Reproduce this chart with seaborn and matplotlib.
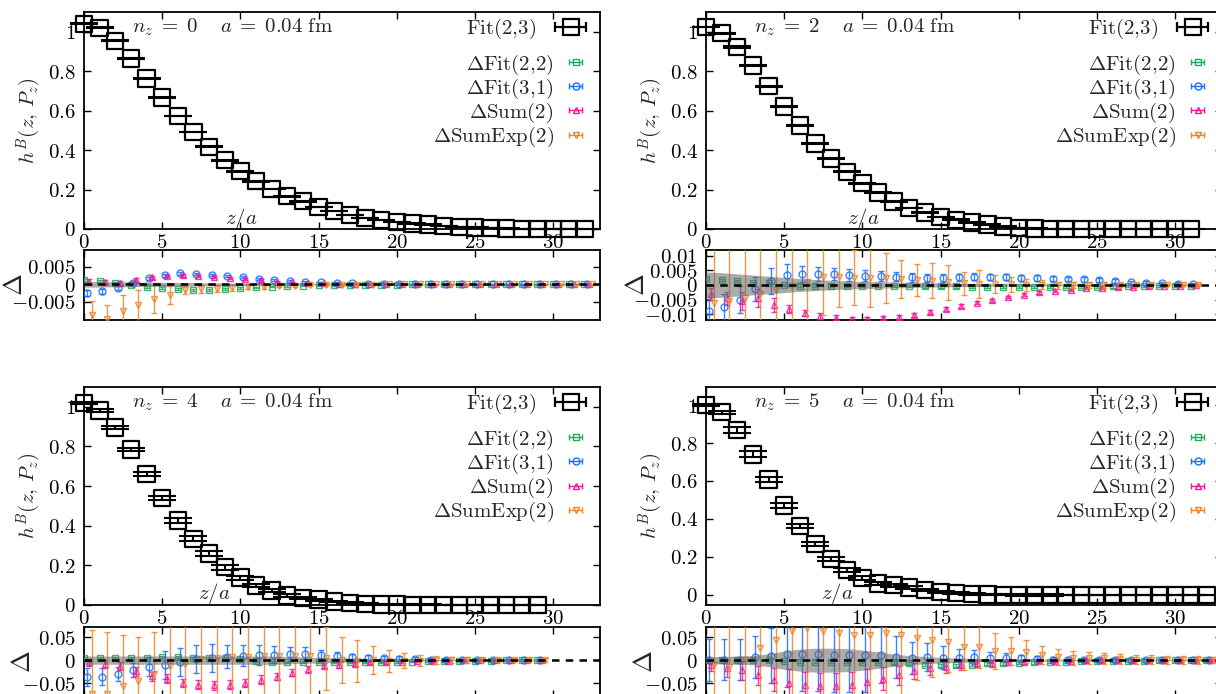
import matplotlib
matplotlib.use("Agg")
import numpy as np
import matplotlib.pyplot as plt
import seaborn as sns
from matplotlib.container import ErrorbarContainer
from matplotlib.legend_handler import HandlerErrorbar
from matplotlib.lines import Line2D
from matplotlib.collections import LineCollection
from matplotlib.ticker import FixedLocator, FuncFormatter

# ---------------------------------------------------------------- data
# n_z = 0
h_nz0 = [1.040, 1.020, 0.954, 0.864, 0.763, 0.666, 0.573, 0.492, 0.417, 0.349,
         0.293, 0.242, 0.203, 0.166, 0.141, 0.112, 0.090, 0.070, 0.057, 0.045,
         0.036, 0.028, 0.022, 0.016, 0.011, 0.007, 0.004, 0.002, 0.001, 0.000,
         0.000, 0.000, 0.000]
herr_nz0 = [0.002, 0.002, 0.002, 0.002, 0.002, 0.002, 0.002, 0.002, 0.002, 0.002,
            0.002, 0.002, 0.002, 0.002, 0.002, 0.002, 0.001, 0.001, 0.001, 0.001,
            0.001, 0.001, 0.001, 0.001, 0.001, 0.001, 0.001, 0.001, 0.001, 0.001,
            0.001, 0.001, 0.001]
d22_nz0 = [0.0012, 0.0010, 0.0005, -0.0002, -0.0007, -0.0011, -0.0014, -0.0017, -0.0016, -0.0014,
           -0.0011, -0.0009, -0.0007, -0.0005, -0.0004, -0.0003, -0.0002, -0.0002, -0.0001, -0.0001,
           -0.0001, 0.0, 0.0, 0.0, 0.0, 0.0, 0.0, 0.0, 0.0, 0.0,
           0.0, 0.0, 0.0]
d22err_nz0 = [0.0003, 0.0003, 0.0003, 0.0003, 0.0003, 0.0003, 0.0003, 0.0003, 0.0003, 0.0003,
              0.0003, 0.0002, 0.0002, 0.0002, 0.0002, 0.0002, 0.0002, 0.0002, 0.0002, 0.0002,
              0.0002, 0.0002, 0.0002, 0.0002, 0.0002, 0.0002, 0.0002, 0.0002, 0.0002, 0.0002,
              0.0002, 0.0002, 0.0002]
d31_nz0 = [-0.0025, -0.0020, -0.0011, 0.0005, 0.0017, 0.0026, 0.0031, 0.0029, 0.0027, 0.0024,
           0.0020, 0.0016, 0.0013, 0.0009, 0.0007, 0.0006, 0.0004, 0.0003, 0.0002, 0.0002,
           0.0001, 0.0001, 0.0001, 0.0, 0.0, 0.0, 0.0, 0.0, 0.0, 0.0,
           0.0, 0.0, 0.0]
d31err_nz0 = [0.0009, 0.0007, 0.0006, 0.0005, 0.0004, 0.0004, 0.0004, 0.0003, 0.0003, 0.0003,
              0.0003, 0.0003, 0.0003, 0.0002, 0.0002, 0.0002, 0.0002, 0.0002, 0.0002, 0.0002,
              0.0002, 0.0002, 0.0002, 0.0002, 0.0002, 0.0002, 0.0002, 0.0002, 0.0002, 0.0002,
              0.0002, 0.0002, 0.0002]
dsum_nz0 = [0.0007, 0.0007, 0.0004, 0.0012, 0.0020, 0.0024, 0.0026, 0.0025, 0.0022, 0.0018,
            0.0014, 0.0011, 0.0008, 0.0006, 0.0004, 0.0003, 0.0002, 0.0002, 0.0001, 0.0001,
            0.0, 0.0, 0.0, 0.0, 0.0, 0.0, 0.0, 0.0, 0.0, 0.0,
            0.0, 0.0, 0.0]
dsumerr_nz0 = [0.0007, 0.0006, 0.0006, 0.0006, 0.0005, 0.0004, 0.0004, 0.0003, 0.0003, 0.0003,
               0.0003, 0.0003, 0.0002, 0.0002, 0.0002, 0.0002, 0.0002, 0.0002, 0.0002, 0.0002,
               0.0002, 0.0002, 0.0002, 0.0002, 0.0002, 0.0002, 0.0002, 0.0002, 0.0002, 0.0002,
               0.0002, 0.0002, 0.0002]
dexp_nz0 = [-0.0087, -0.0098, -0.0076, -0.0060, -0.0042, -0.0030, -0.0016, -0.0014, -0.0012, -0.0010,
            -0.0008, -0.0007, -0.0005, -0.0004, -0.0003, -0.0002, -0.0002, -0.0001, -0.0001, 0.0,
            0.0, 0.0, 0.0, 0.0, 0.0, 0.0, 0.0, 0.0, 0.0, 0.0,
            0.0, 0.0, 0.0]
dexperr_nz0 = [0.0040, 0.0040, 0.0045, 0.0045, 0.0040, 0.0025, 0.0012, 0.0011, 0.0009, 0.0008,
               0.0006, 0.0005, 0.0004, 0.0003, 0.0003, 0.0002, 0.0002, 0.0002, 0.0002, 0.0002,
               0.0002, 0.0002, 0.0002, 0.0002, 0.0002, 0.0002, 0.0002, 0.0002, 0.0002, 0.0002,
               0.0002, 0.0002, 0.0002]
band_nz0 = [0.0008, 0.0008, 0.0007, 0.0007, 0.0006, 0.0006, 0.0005, 0.0005, 0.0004, 0.0004,
            0.0003, 0.0003, 0.0002, 0.0002, 0.0002, 0.0002, 0.0001, 0.0001, 0.0001, 0.0001,
            0.0001, 0.0001, 0.0001, 0.0001, 0.0001, 0.0001, 0.0001, 0.0001, 0.0001, 0.0001,
            0.0001, 0.0001, 0.0001]

# n_z = 2
h_nz2 = [1.024, 0.993, 0.923, 0.828, 0.724, 0.620, 0.524, 0.434, 0.357, 0.290,
         0.232, 0.185, 0.140, 0.106, 0.084, 0.061, 0.047, 0.034, 0.022, 0.013,
         0.006, 0.002, 0.000, 0.000, 0.000, 0.000, 0.000, 0.000, 0.000, 0.000,
         0.000, 0.000]
herr_nz2 = [0.002, 0.003, 0.003, 0.003, 0.003, 0.003, 0.003, 0.003, 0.003, 0.003,
            0.003, 0.003, 0.003, 0.002, 0.002, 0.002, 0.002, 0.002, 0.002, 0.002,
            0.001, 0.001, 0.001, 0.001, 0.001, 0.001, 0.001, 0.001, 0.001, 0.001,
            0.001, 0.001]
d22_nz2 = [0.0020, 0.0017, 0.0013, 0.0008, 0.0006, 0.0001, -0.0002, -0.0002, -0.0002, -0.0002,
           -0.0002, -0.0003, -0.0003, -0.0004, -0.0005, -0.0005, -0.0005, -0.0006, -0.0006, -0.0007,
           -0.0007, -0.0007, -0.0007, -0.0007, -0.0006, -0.0006, -0.0005, -0.0004, -0.0004, -0.0003,
           -0.0002, -0.0002]
d22err_nz2 = [0.0004, 0.0004, 0.0004, 0.0004, 0.0004, 0.0004, 0.0004, 0.0004, 0.0004, 0.0004,
              0.0004, 0.0004, 0.0004, 0.0004, 0.0004, 0.0004, 0.0004, 0.0004, 0.0004, 0.0004,
              0.0004, 0.0004, 0.0004, 0.0004, 0.0004, 0.0004, 0.0004, 0.0004, 0.0004, 0.0004,
              0.0004, 0.0004]
d31_nz2 = [-0.0088, -0.0077, -0.0050, -0.0014, 0.0015, 0.0034, 0.0038, 0.0038, 0.0037, 0.0034,
           0.0032, 0.0031, 0.0029, 0.0027, 0.0024, 0.0024, 0.0026, 0.0029, 0.0027, 0.0027,
           0.0024, 0.0024, 0.0022, 0.0021, 0.0019, 0.0017, 0.0013, 0.0009, 0.0007, 0.0006,
           0.0004, 0.0002]
d31err_nz2 = [0.0040, 0.0045, 0.0045, 0.0040, 0.0045, 0.0037, 0.0026, 0.0023, 0.0021, 0.0020,
              0.0019, 0.0018, 0.0016, 0.0015, 0.0014, 0.0013, 0.0012, 0.0012, 0.0011, 0.0010,
              0.0010, 0.0009, 0.0009, 0.0008, 0.0008, 0.0007, 0.0007, 0.0006, 0.0006, 0.0005,
              0.0005, 0.0004]
dsum_nz2 = [-0.0030, -0.0045, -0.0055, -0.0045, -0.0068, -0.0082, -0.0095, -0.0105, -0.0112, -0.0116,
            -0.0117, -0.0113, -0.0110, -0.0102, -0.0092, -0.0083, -0.0072, -0.0060, -0.0052, -0.0041,
            -0.0033, -0.0025, -0.0019, -0.0016, -0.0011, -0.0010, -0.0008, -0.0006, -0.0005, -0.0003,
            -0.0002, -0.0001]
dsumerr_nz2 = [0.0020, 0.0022, 0.0030, 0.0030, 0.0025, 0.0015, 0.0011, 0.0010, 0.0009, 0.0008,
               0.0008, 0.0008, 0.0007, 0.0007, 0.0007, 0.0006, 0.0006, 0.0006, 0.0005, 0.0005,
               0.0005, 0.0005, 0.0004, 0.0004, 0.0004, 0.0004, 0.0004, 0.0004, 0.0004, 0.0004,
               0.0004, 0.0004]
dexp_nz2 = [-0.0060, -0.0055, -0.0043, -0.0030, -0.0017, -0.0003, 0.0010, 0.0026, 0.0026, 0.0025,
            0.0024, 0.0024, 0.0020, 0.0018, 0.0014, 0.0010, 0.0006, 0.0004, 0.0003, 0.0002,
            0.0001, 0.0001, 0.0, 0.0, 0.0, 0.0, 0.0, 0.0, 0.0, 0.0,
            0.0, 0.0]
dexperr_nz2 = [0.0250, 0.0250, 0.0250, 0.0250, 0.0250, 0.0250, 0.0200, 0.0130, 0.0101, 0.0095,
               0.0100, 0.0085, 0.0065, 0.0055, 0.0060, 0.0060, 0.0040, 0.0048, 0.0030, 0.0025,
               0.0020, 0.0015, 0.0012, 0.0010, 0.0010, 0.0009, 0.0008, 0.0007, 0.0006, 0.0005,
               0.0005, 0.0004]
band_nz2 = [0.0045, 0.0042, 0.0038, 0.0034, 0.0030, 0.0026, 0.0022, 0.0019, 0.0016, 0.0014,
            0.0012, 0.0011, 0.0010, 0.0009, 0.0008, 0.0007, 0.0006, 0.0005, 0.0004, 0.0004,
            0.0003, 0.0003, 0.0003, 0.0002, 0.0002, 0.0002, 0.0002, 0.0002, 0.0001, 0.0001,
            0.0001, 0.0001]

# n_z = 4
h_nz4 = [1.019, 0.982, 0.896, 0.785, 0.660, 0.540, 0.427, 0.334, 0.260, 0.191,
         0.138, 0.098, 0.073, 0.049, 0.034, 0.027, 0.017, 0.010, 0.005, 0.003,
         0.002, 0.001, 0.001, 0.000, 0.000, 0.000, 0.000, 0.000, 0.000, 0.000]
herr_nz4 = [0.004, 0.007, 0.008, 0.008, 0.009, 0.010, 0.012, 0.013, 0.013, 0.012,
            0.010, 0.009, 0.008, 0.007, 0.006, 0.005, 0.004, 0.004, 0.003, 0.003,
            0.003, 0.002, 0.002, 0.002, 0.002, 0.002, 0.002, 0.002, 0.002, 0.002]
d22_nz4 = [0.004, 0.004, 0.004, 0.005, 0.005, 0.006, 0.006, 0.004, 0.004, 0.004,
           0.002, -0.001, -0.004, -0.005, -0.005, -0.004, -0.005, -0.005, -0.005, -0.005,
           -0.004, -0.003, -0.002, -0.002, -0.001, -0.001, -0.001, 0.0, 0.0, 0.0]
d22err_nz4 = [0.002, 0.002, 0.002, 0.002, 0.002, 0.002, 0.002, 0.002, 0.002, 0.002,
              0.002, 0.002, 0.002, 0.002, 0.002, 0.002, 0.002, 0.002, 0.002, 0.002,
              0.002, 0.002, 0.002, 0.002, 0.002, 0.002, 0.002, 0.002, 0.002, 0.002]
d31_nz4 = [-0.037, -0.036, -0.030, -0.022, -0.014, -0.010, -0.004, 0.002, 0.005, 0.007,
           0.010, 0.012, 0.012, 0.014, 0.013, 0.011, 0.008, 0.006, 0.005, 0.004,
           0.003, 0.002, 0.001, 0.001, 0.0, 0.0, 0.0, 0.0, 0.0, 0.0]
d31err_nz4 = [0.020, 0.018, 0.016, 0.015, 0.020, 0.030, 0.030, 0.030, 0.030, 0.025,
              0.022, 0.022, 0.018, 0.015, 0.015, 0.012, 0.010, 0.008, 0.007, 0.006,
              0.005, 0.004, 0.004, 0.003, 0.003, 0.003, 0.002, 0.002, 0.002, 0.002]
dsum_nz4 = [-0.005, -0.008, -0.013, -0.024, -0.035, -0.040, -0.049, -0.053, -0.055, -0.053,
            -0.049, -0.042, -0.036, -0.027, -0.020, -0.012, -0.010, -0.008, -0.005, -0.004,
            -0.003, -0.002, -0.001, -0.001, 0.0, 0.0, 0.0, 0.0, 0.0, 0.0]
dsumerr_nz4 = [0.008, 0.009, 0.009, 0.010, 0.010, 0.009, 0.009, 0.009, 0.009, 0.009,
               0.009, 0.009, 0.008, 0.008, 0.007, 0.006, 0.006, 0.005, 0.004, 0.004,
               0.003, 0.003, 0.003, 0.002, 0.002, 0.002, 0.002, 0.002, 0.002, 0.002]
dexp_nz4 = [-0.074, -0.074, -0.057, -0.046, -0.031, -0.013, -0.009, 0.002, 0.004, 0.006,
            0.006, 0.009, 0.010, 0.009, 0.008, 0.004, 0.000, -0.002, 0.000, -0.002,
            -0.001, -0.001, 0.0, 0.0, 0.0, 0.0, 0.0, 0.0, 0.0, 0.0]
dexperr_nz4 = [0.139, 0.135, 0.112, 0.097, 0.092, 0.150, 0.150, 0.150, 0.150, 0.150,
               0.150, 0.150, 0.150, 0.150, 0.150, 0.068, 0.050, 0.045, 0.030, 0.024,
               0.016, 0.012, 0.009, 0.007, 0.006, 0.005, 0.005, 0.004, 0.004, 0.004]
band_nz4 = [0.009, 0.009, 0.009, 0.009, 0.009, 0.009, 0.009, 0.009, 0.009, 0.009,
            0.009, 0.009, 0.009, 0.008, 0.007, 0.006, 0.005, 0.004, 0.003, 0.003,
            0.002, 0.002, 0.002, 0.001, 0.001, 0.001, 0.001, 0.001, 0.001, 0.001]

# n_z = 5
h_nz5 = [1.000, 0.963, 0.868, 0.740, 0.609, 0.472, 0.363, 0.268, 0.189, 0.132,
         0.088, 0.061, 0.051, 0.040, 0.026, 0.016, 0.009, 0.004, 0.002, 0.001,
         0.000, 0.000, 0.000, 0.000, 0.000, 0.000, 0.000, 0.000, 0.000, 0.000,
         0.000, 0.000, 0.000]
herr_nz5 = [0.003, 0.008, 0.015, 0.016, 0.014, 0.013, 0.013, 0.012, 0.012, 0.011,
            0.010, 0.009, 0.008, 0.007, 0.006, 0.005, 0.005, 0.004, 0.004, 0.003,
            0.003, 0.003, 0.003, 0.002, 0.002, 0.002, 0.002, 0.002, 0.002, 0.002,
            0.002, 0.002, 0.002]
d22_nz5 = [0.000, 0.001, 0.001, 0.001, 0.000, -0.002, -0.003, -0.003, -0.003, -0.003,
           -0.004, -0.004, -0.005, -0.007, -0.010, -0.011, -0.011, -0.010, -0.007, -0.007,
           -0.006, -0.005, -0.004, -0.003, -0.002, -0.002, -0.001, -0.001, -0.001, 0.0,
           0.0, 0.0, 0.0]
d22err_nz5 = [0.003, 0.003, 0.003, 0.003, 0.003, 0.003, 0.003, 0.003, 0.003, 0.003,
              0.003, 0.003, 0.003, 0.003, 0.003, 0.003, 0.003, 0.003, 0.003, 0.003,
              0.003, 0.003, 0.003, 0.003, 0.003, 0.003, 0.003, 0.003, 0.003, 0.003,
              0.003, 0.003, 0.003]
d31_nz5 = [0.000, 0.001, 0.001, 0.007, 0.010, 0.0125, 0.0125, 0.0125, 0.011, 0.011,
           0.011, 0.011, 0.007, 0.005, 0.007, 0.005, 0.005, 0.007, 0.005, 0.005,
           0.004, 0.002, 0.001, 0.001, 0.0, 0.0, 0.0, 0.0, 0.0, 0.0,
           0.0, 0.0, 0.0]
d31err_nz5 = [0.045, 0.045, 0.045, 0.045, 0.060, 0.070, 0.080, 0.080, 0.080, 0.080,
              0.080, 0.060, 0.045, 0.035, 0.030, 0.025, 0.020, 0.015, 0.012, 0.010,
              0.008, 0.007, 0.006, 0.005, 0.005, 0.004, 0.004, 0.003, 0.003, 0.003,
              0.003, 0.002, 0.002]
dsum_nz5 = [-0.011, -0.018, -0.022, -0.033, -0.042, -0.049, -0.055, -0.057, -0.057, -0.055,
            -0.048, -0.040, -0.033, -0.024, -0.018, -0.015, -0.011, -0.007, -0.007, -0.004,
            -0.004, -0.002, -0.001, -0.001, 0.0, 0.0, 0.0, 0.0, 0.0, 0.0,
            0.0, 0.0, 0.0]
dsumerr_nz5 = [0.012, 0.018, 0.020, 0.020, 0.025, 0.030, 0.030, 0.030, 0.030, 0.030,
               0.028, 0.025, 0.020, 0.017, 0.014, 0.012, 0.010, 0.008, 0.007, 0.006,
               0.005, 0.004, 0.004, 0.003, 0.003, 0.003, 0.003, 0.003, 0.003, 0.003,
               0.003, 0.003, 0.003]
dexp_nz5 = [-0.011, -0.015, 0.000, 0.026, 0.044, 0.0625, 0.070, 0.064, 0.059, 0.055,
            0.055, 0.059, 0.055, 0.048, 0.044, 0.040, 0.029, 0.029, 0.020, 0.020,
            0.018, 0.011, 0.007, 0.005, 0.004, 0.004, 0.002, 0.001, 0.001, 0.0,
            0.0, 0.0, 0.0]
dexperr_nz5 = [0.150, 0.150, 0.150, 0.150, 0.150, 0.150, 0.150, 0.150, 0.150, 0.150,
               0.150, 0.150, 0.150, 0.090, 0.080, 0.065, 0.050, 0.045, 0.040, 0.030,
               0.025, 0.020, 0.018, 0.015, 0.013, 0.012, 0.011, 0.010, 0.010, 0.009,
               0.008, 0.008, 0.007]
band_nz5 = [0.008, 0.008, 0.009, 0.010, 0.014, 0.020, 0.024, 0.026, 0.026, 0.025,
            0.022, 0.018, 0.013, 0.010, 0.008, 0.006, 0.005, 0.004, 0.003, 0.003,
            0.002, 0.002, 0.002, 0.002, 0.001, 0.001, 0.001, 0.001, 0.001, 0.001,
            0.001, 0.001, 0.001]

nz_values = [0, 2, 4, 5]
series_labels = [r"$\Delta\mathrm{Fit}(2{,}2)$", r"$\Delta\mathrm{Fit}(3{,}1)$",
                 r"$\Delta\mathrm{Sum}(2)$", r"$\Delta\mathrm{SumExp}(2)$"]
series_colors = ["#22a85a", "#1a6fff", "#f5179a", "#ee8428"]
series_markers = ["s", "o", "^", "v"]
series_shift = [0.0, 0.16, 0.32, 0.48]

# ---------------------------------------------------------------- style
sns.set_theme(style="ticks")
plt.rcParams.update({
    "font.family": ["DejaVu Serif"],
    "mathtext.fontset": "cm",
    "axes.linewidth": 1.3,
    "axes.edgecolor": "black",
    "xtick.color": "black",
    "ytick.color": "black",
    "legend.numpoints": 1,
})

W, H = 1216, 694
fig = plt.figure(figsize=(W / 100, H / 100), dpi=100)
fig.patch.set_facecolor("white")


def fx(px):
    return px / W


def fy(px):
    return 1 - px / H


# panel placement (pixels): left edge, main top/bottom, residual top/bottom
layout = [
    dict(left=84, mtop=12, mbot=229, rtop=250, rbot=320),
    dict(left=706, mtop=12, mbot=229, rtop=250, rbot=320),
    dict(left=84, mtop=387, mbot=605, rtop=627, rbot=697),
    dict(left=706, mtop=387, mbot=605, rtop=627, rbot=697),
]
panel_width = 516

panels = [
    dict(h=h_nz0, herr=herr_nz0, res=[(d22_nz0, d22err_nz0), (d31_nz0, d31err_nz0),
                                     (dsum_nz0, dsumerr_nz0), (dexp_nz0, dexperr_nz0)],
         band=band_nz0, ylim=(0, 1.1), rlim=(-0.0102, 0.0098),
         rticks=[-0.005, 0, 0.005], za=(0.304, 0.05), dlab=-0.11),
    dict(h=h_nz2, herr=herr_nz2, res=[(d22_nz2, d22err_nz2), (d31_nz2, d31err_nz2),
                                     (dsum_nz2, dsumerr_nz2), (dexp_nz2, dexperr_nz2)],
         band=band_nz2, ylim=(0, 1.1), rlim=(-0.012, 0.012),
         rticks=[-0.01, -0.005, 0, 0.005, 0.01], za=(0.304, 0.05), dlab=-0.11),
    dict(h=h_nz4, herr=herr_nz4, res=[(d22_nz4, d22err_nz4), (d31_nz4, d31err_nz4),
                                     (dsum_nz4, dsumerr_nz4), (dexp_nz4, dexperr_nz4)],
         band=band_nz4, ylim=(0, 1.1), rlim=(-0.08, 0.072),
         rticks=[-0.05, 0, 0.05], za=(0.252, 0.055), dlab=-0.095),
    dict(h=h_nz5, herr=herr_nz5, res=[(d22_nz5, d22err_nz5), (d31_nz5, d31err_nz5),
                                     (dsum_nz5, dsumerr_nz5), (dexp_nz5, dexperr_nz5)],
         band=band_nz5, ylim=(-0.053, 1.095), rlim=(-0.08, 0.072),
         rticks=[-0.05, 0, 0.05], za=(0.255, 0.055), dlab=-0.095),
]

tick_fmt = FuncFormatter(lambda v, p: "$%g$" % v)
FS = 15


def style_axes(ax):
    ax.tick_params(axis="both", which="both", direction="in", top=True, right=True,
                   length=5, width=1.0, labelsize=FS)
    ax.tick_params(axis="y", pad=6)
    ax.tick_params(axis="x", pad=3)
    for s in ax.spines.values():
        s.set_linewidth(1.3)
        s.set_visible(True)
    ax.set_facecolor("white")


def key_handle(marker, color, ms, lw, capms):
    pl = Line2D([], [], ls="none", marker=marker, mfc="none", mec=color, ms=ms, mew=lw)
    bar = LineCollection([], colors=color, linewidths=lw)
    cap = Line2D([], [], ls="none", marker="|", color=color, ms=capms, mew=lw)
    return ErrorbarContainer((pl, (cap,), (bar,)), has_xerr=True, has_yerr=False)


for nz, lay, p in zip(nz_values, layout, panels):
    z = np.arange(len(p["h"]))
    ax = fig.add_axes([fx(lay["left"]), fy(lay["mbot"]), fx(panel_width),
                       (lay["mbot"] - lay["mtop"]) / H])
    axr = fig.add_axes([fx(lay["left"]), fy(lay["rbot"]), fx(panel_width),
                        (lay["rbot"] - lay["rtop"]) / H])

    # main panel: bare matrix element
    ax.errorbar(z, p["h"], yerr=p["herr"], fmt="none", ecolor="black", elinewidth=1.5,
                capsize=10, capthick=1.5, clip_on=False, zorder=3)
    sns.scatterplot(x=z, y=p["h"], marker="s", s=140, facecolor="none", edgecolor="black",
                    linewidth=1.6, ax=ax, clip_on=False, zorder=4, legend=False)
    ax.set_xlim(0, 33)
    ax.set_ylim(*p["ylim"])
    ax.xaxis.set_major_locator(FixedLocator([0, 5, 10, 15, 20, 25, 30]))
    ax.yaxis.set_major_locator(FixedLocator([0, 0.2, 0.4, 0.6, 0.8, 1.0]))
    ax.xaxis.set_major_formatter(tick_fmt)
    ax.yaxis.set_major_formatter(tick_fmt)
    style_axes(ax)
    ax.set_xlabel("")
    ax.set_ylabel(r"$h^B(z,\,P_z)$", fontsize=FS)
    ax.yaxis.set_label_coords(-0.08, 0.5)
    ax.text(p["za"][0], p["za"][1], r"$z/a$", transform=ax.transAxes, fontsize=FS,
            ha="center", va="center")
    ax.text(0.093, 0.93, r"$n_z\;=\;%d\quad\; a\;=\;0.04\ \mathrm{fm}$" % nz,
            transform=ax.transAxes, fontsize=FS, ha="left", va="center")

    # residual panel: differences to Fit(2,3)
    band = np.asarray(p["band"])
    for k, (vals, errs) in enumerate(p["res"]):
        axr.errorbar(z + series_shift[k], vals, yerr=errs, fmt=series_markers[k], ms=5,
                     mfc="none", mec=series_colors[k], mew=1.0, ecolor=series_colors[k],
                     elinewidth=1.0, capsize=2.2, capthick=1.0, alpha=0.85, zorder=3 + k)
    axr.fill_between(z, -band, band, color="0.4", alpha=0.55, lw=0, zorder=8)
    axr.plot([0, 33], [0, 0], color="black", ls=(0, (3.0, 2.5)), lw=1.8, zorder=9)
    axr.set_xlim(0, 33)
    axr.set_ylim(*p["rlim"])
    axr.xaxis.set_major_locator(FixedLocator([0, 5, 10, 15, 20, 25, 30]))
    axr.yaxis.set_major_locator(FixedLocator(p["rticks"]))
    axr.yaxis.set_major_formatter(tick_fmt)
    style_axes(axr)
    axr.tick_params(axis="x", labelbottom=False)
    axr.set_ylabel(r"$\Delta$", fontsize=FS + 4)
    axr.yaxis.set_label_coords(p["dlab"], 0.5)

    # keys
    fit_key = key_handle("s", "black", 11.8, 1.6, 7)
    leg1 = ax.legend([fit_key], [r"$\mathrm{Fit}(2{,}3)$"], loc="upper right",
                     bbox_to_anchor=(1.016, 1.04), frameon=False, fontsize=FS,
                     handlelength=2.3, handletextpad=0.5, borderaxespad=0.25,
                     markerfirst=False,
                     handler_map={ErrorbarContainer: HandlerErrorbar(xerr_size=0.75)})
    ax.add_artist(leg1)
    keys = [key_handle(series_markers[k], series_colors[k], 5, 1.0, 4) for k in range(4)]
    ax.legend(keys, series_labels, loc="upper right", bbox_to_anchor=(0.993, 0.852),
              frameon=False, fontsize=FS, handlelength=1.2, handletextpad=0.45,
              labelspacing=0.0, borderaxespad=0.0, markerfirst=False,
              handler_map={ErrorbarContainer: HandlerErrorbar(xerr_size=0.33)})

fig.savefig("out.png", dpi=100)
